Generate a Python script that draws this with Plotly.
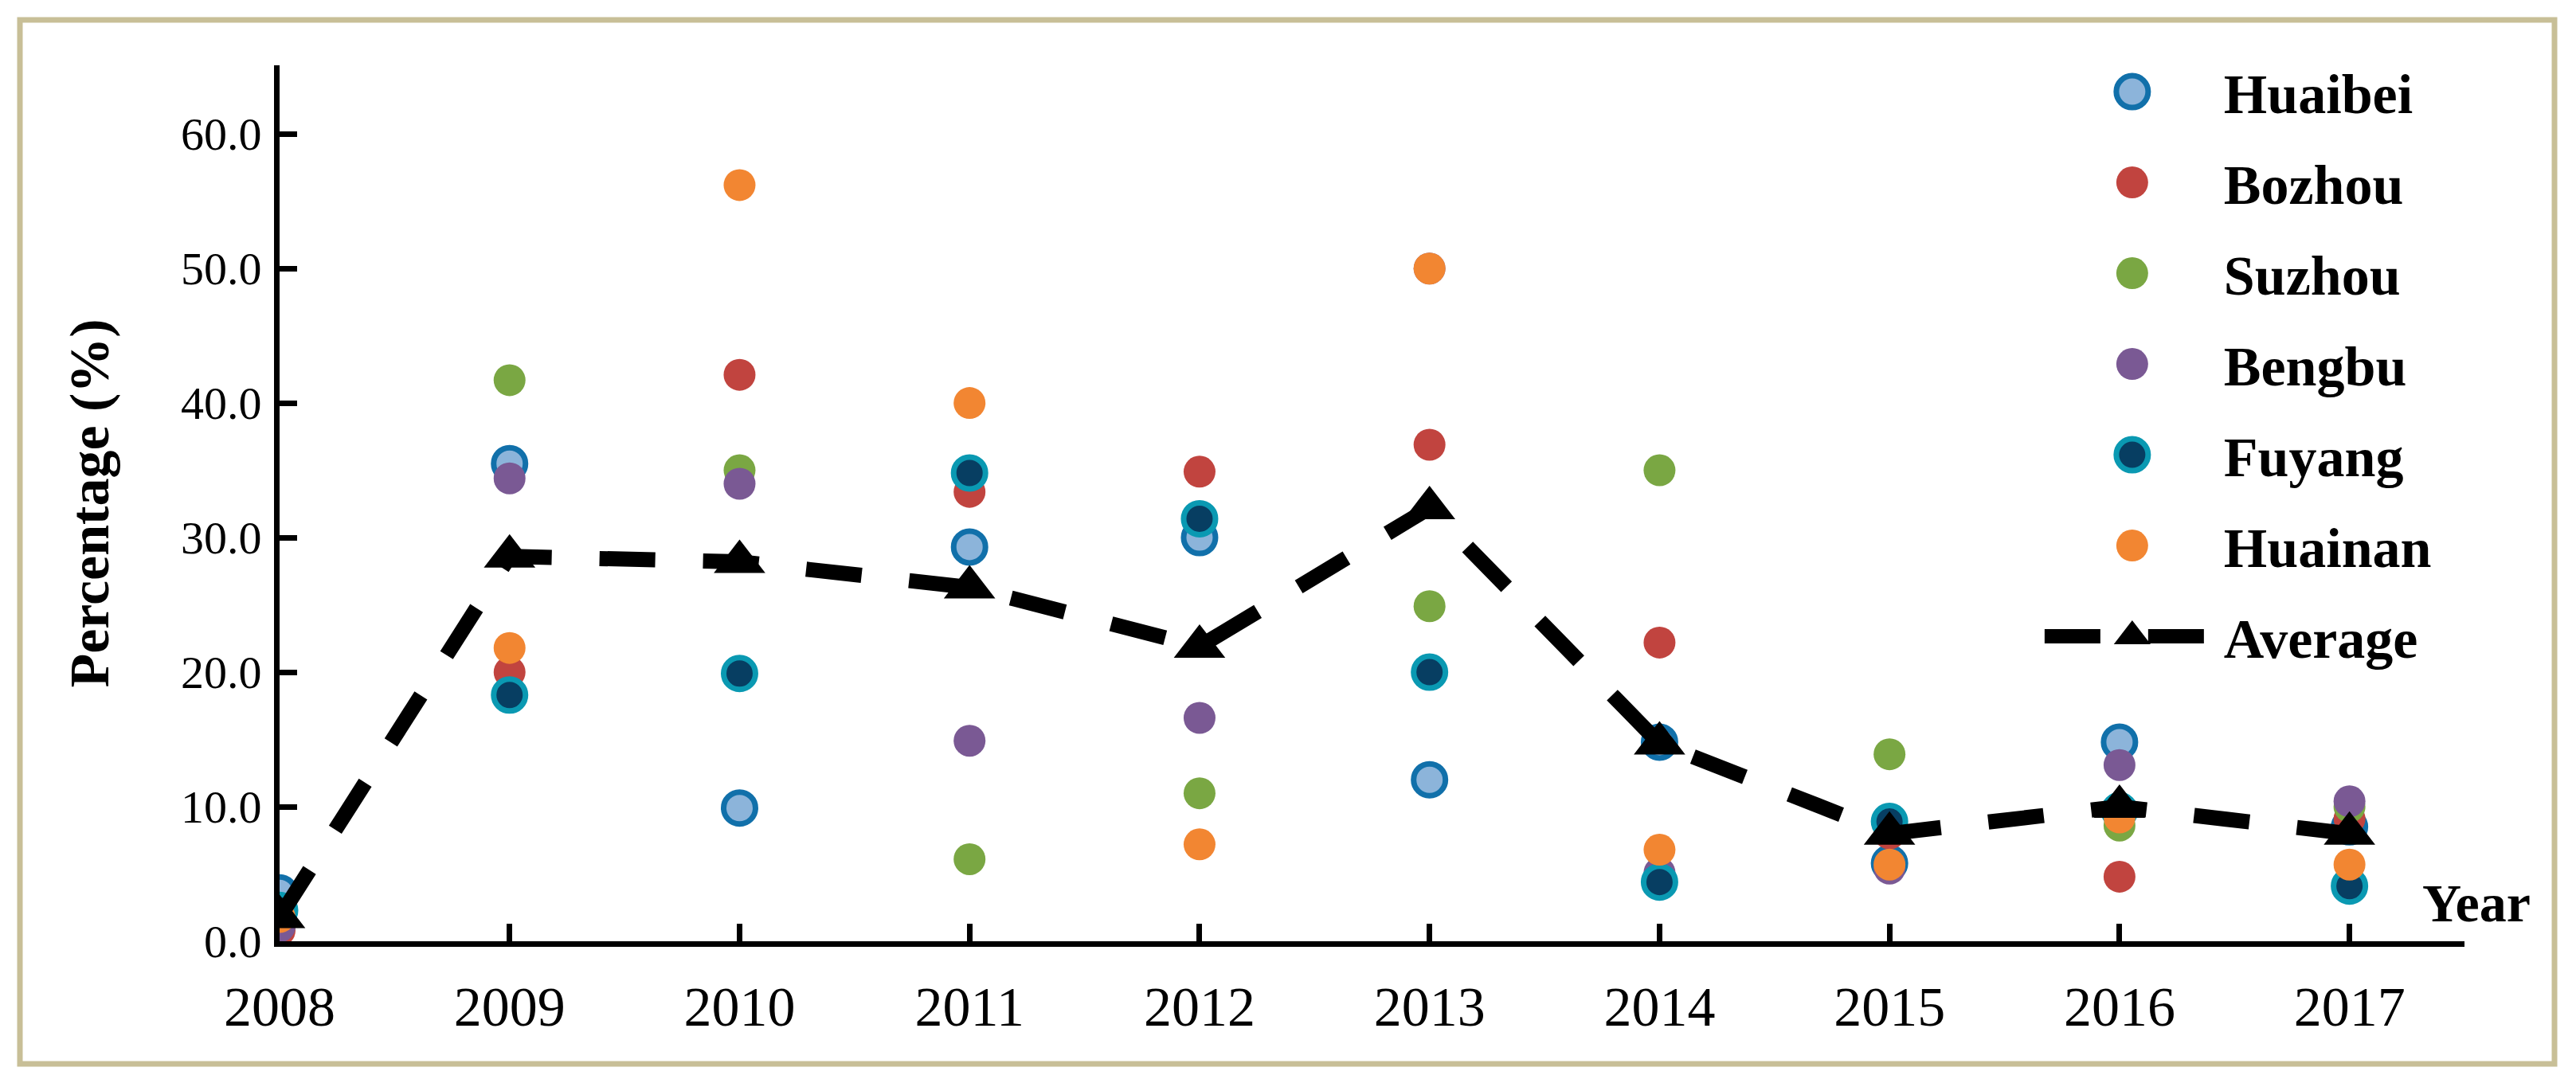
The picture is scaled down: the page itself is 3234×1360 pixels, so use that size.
import plotly.graph_objects as go

# ---- data ----
years = [2008, 2009, 2010, 2011, 2012, 2013, 2014, 2015, 2016, 2017]
huaibei = [3.6, 35.5, 9.9, 29.3, 30.0, 12.0, 14.8, 5.8, 14.8, 8.5]
bozhou = [0.8, 20.0, 42.1, 33.4, 34.9, 36.9, 22.2, 8.0, 4.8, 9.1]
suzhou = [1.2, 41.7, 35.0, 6.1, 11.0, 24.9, 35.0, 13.9, 8.6, 10.0]
bengbu = [1.1, 34.4, 34.0, 14.9, 16.6, 50.0, 5.1, 5.4, 13.1, 10.4]
fuyang = [2.3, 18.3, 19.9, 34.8, 31.4, 20.0, 4.4, 8.9, 9.7, 4.1]
huainan = [1.8, 21.8, 56.2, 40.0, 7.2, 50.0, 6.8, 5.7, 9.2, 5.7]
average = [1.8, 28.6, 28.2, 26.3, 21.9, 32.2, 14.7, 8.0, 10.0, 8.0]

series_names = ["Huaibei", "Bozhou", "Suzhou", "Bengbu", "Fuyang", "Huainan"]
series_values = [huaibei, bozhou, suzhou, bengbu, fuyang, huainan]
fill_colors = ["#8CB4DA", "#C1443F", "#7AA743", "#7A5994", "#073E62", "#F28632"]
edge_colors = ["#1170AA", "#C1443F", "#7AA743", "#7A5994", "#0A99B2", "#F28632"]
edge_widths = [7, 0, 0, 0, 7, 0]

y_ticks = [0, 10, 20, 30, 40, 50, 60]
y_tick_text = ["0.0", "10.0", "20.0", "30.0", "40.0", "50.0", "60.0"]

SERIF = "Liberation Serif"

fig = go.Figure()
for name, vals, fc, ec, ew in zip(series_names, series_values, fill_colors, edge_colors, edge_widths):
    fig.add_trace(go.Scatter(
        x=years, y=vals, name=name, mode="markers", legendgroup=name,
        marker=dict(size=40, color=fc, line=dict(color=ec, width=ew)),
    ))

fig.add_trace(go.Scatter(
    x=years, y=average, name="Average", mode="lines+markers", legendgroup="Average",
    line=dict(color="black", width=19, dash="70px,60px"),
    marker=dict(symbol="triangle-up", size=56, color="black"),
))

W, H = 3234, 1360
ML, MR, MT, MB = 351, 140, 82, 178

fig.update_layout(
    width=W, height=H,
    margin=dict(l=ML, r=MR, t=MT, b=MB, pad=0),
    paper_bgcolor="white", plot_bgcolor="white",
    font=dict(family=SERIF, color="black", size=62),
    showlegend=True,
    legend=dict(
        x=0.806, y=0.659, xanchor="left", yanchor="middle",
        font=dict(family=SERIF, size=70, color="black", weight="bold"),
        bgcolor="rgba(0,0,0,0)", borderwidth=0,
        itemwidth=220, tracegroupgap=20,
    ),
    xaxis=dict(
        range=[2008, 2017.5], tickmode="array", tickvals=years,
        ticktext=[str(y) for y in years],
        showline=True, linecolor="black", linewidth=7,
        ticks="inside", ticklen=22, tickwidth=7, tickcolor="black",
        showgrid=False, zeroline=False,
        tickfont=dict(family=SERIF, size=70, color="black"),
        ticklabelstandoff=15,
    ),
    yaxis=dict(
        range=[0, 65.1], tickmode="array", tickvals=y_ticks, ticktext=y_tick_text,
        showline=True, linecolor="black", linewidth=7,
        ticks="inside", ticklen=22, tickwidth=7, tickcolor="black",
        showgrid=False, zeroline=False,
        tickfont=dict(family=SERIF, size=58, color="black"),
        ticklabelstandoff=4,
        title=dict(text="Percentage (%)", standoff=70,
                   font=dict(family=SERIF, size=70, color="black", weight="bold")),
    ),
)

fig.add_annotation(
    text="Year", xref="paper", yref="paper", x=1.0055, y=0,
    xanchor="center", yanchor="bottom", yshift=8, showarrow=False,
    font=dict(family=SERIF, size=68, color="black", weight="bold"),
)

# outer tan frame around the whole figure
pw = W - ML - MR
ph = H - MT - MB
fig.add_shape(
    type="rect", xref="paper", yref="paper", layer="below",
    x0=(25 - ML) / pw, x1=(3207 - ML) / pw,
    y0=-(1336 - (H - MB)) / ph, y1=((H - MB) - 25) / ph,
    line=dict(color="#C8BF97", width=7), fillcolor="rgba(0,0,0,0)",
)

post = """
document.body.style.margin = '0';
var gd = document.getElementById('{plot_id}');
gd.querySelectorAll('.legend .legendpoints path.scatterpts').forEach(function(p) {
  var t = p.getAttribute('transform') || '';
  p.setAttribute('transform', t + ' scale(2.5)');
  var sw = parseFloat(p.style.strokeWidth || '0');
  if (sw > 0) { p.style.strokeWidth = '2.8px'; }
});
gd.querySelectorAll('.legend .legendlines path.js-line').forEach(function(p) {
  p.style.strokeWidth = '18px';
});
"""

fig.write_html("out.html", post_script=post, config={"displayModeBar": False})
